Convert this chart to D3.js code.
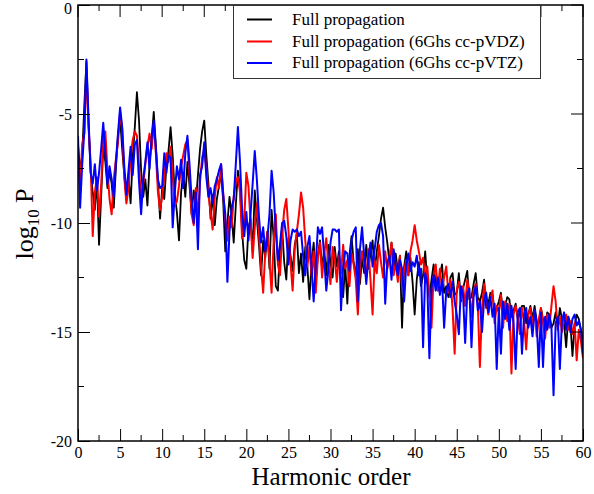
<!DOCTYPE html>
<html>
<head>
<meta charset="utf-8">
<script src="https://cdn.jsdelivr.net/npm/d3@7"></script>
<style>
  html, body { margin: 0; padding: 0; background: #fff; }
  svg { display: block; }
  svg text { font-family: "Liberation Serif", "Times New Roman", serif; }
</style>
</head>
<body>
<svg id="chart" width="594" height="494"></svg>
<script>
// Harmonic order sampled every 0.25 from 0 to 60
const xStep = 0.25;

// log10 of the spectral power, one row per harmonic (four samples each)
const fullProp = [
  -6.4, -7.6, -6.9, -4.6,   -2.6, -5.4, -7.6, -8.6,   -9.4, -8.0, -11.0, -8.8,
  -6.5, -7.2, -8.4, -7.6,   -8.2, -9.3, -7.5, -6.0,   -5.2, -6.6, -7.8, -8.9,
  -7.9, -9.1, -7.0, -5.6,   -4.0, -5.3, -7.6, -8.8,   -8.0, -9.2, -7.3, -6.1,
  -4.9, -6.4, -8.1, -9.8,   -8.4, -8.9, -7.4, -6.7,   -5.6, -6.9, -8.7, -9.5,
  -10.8, -8.6, -7.7, -8.8,  -7.2, -8.3, -9.6, -8.5,   -9.1, -7.8, -6.6, -5.8,
  -5.3, -6.9, -8.2, -9.8,   -8.7, -10.1, -8.9, -8.3,  -7.7, -9.0, -11.3, -10.0,
  -8.8, -9.6, -10.9, -9.2,  -7.6, -8.4, -10.4, -11.7, -12.1, -10.2, -9.8, -11.3,
  -8.5, -9.8, -11.0, -12.4, -10.8, -11.6, -10.4, -12.1, -9.4, -10.7, -12.9, -13.1,
  -11.2, -10.2, -11.8, -12.6, -10.7, -11.5, -12.2, -11.0, -10.5, -12.3, -11.4, -12.7,
  -11.1, -12.0, -13.5, -11.8, -10.9, -12.6, -11.5, -10.8, -12.1, -11.2, -12.4, -11.0,
  -11.8, -12.5, -11.1, -12.0, -11.3, -12.7, -13.4, -11.9, -13.7, -11.5, -10.6, -11.8,
  -12.4, -11.2, -12.8, -11.6, -12.3, -11.0, -12.1, -11.4, -10.8, -12.2, -11.3, -10.6,
  -9.8, -9.3, -10.2, -10.9,  -11.8, -10.9, -12.3, -11.4, -12.2, -11.5, -14.8, -12.0,
  -11.3, -12.4, -11.6, -12.7, -14.2, -12.6, -11.8, -12.9, -12.4, -11.3, -12.7, -13.4,
  -12.6, -11.9, -12.8, -13.1, -12.4, -11.9, -13.2, -12.9, -13.4, -12.5, -12.3, -13.3,
  -13.2, -12.3, -13.6, -13.0, -12.6, -12.2, -13.5, -13.4, -12.8, -12.3, -13.4, -13.6,
  -13.2, -12.6, -13.9, -13.7, -13.2, -13.3, -14.1, -13.9, -13.6, -13.2, -14.2, -13.8,
  -13.4, -13.5, -14.3, -14.0, -13.7, -14.4, -14.1, -13.8, -13.8, -14.6, -14.2, -13.8,
  -14.4, -13.8, -14.5, -14.6, -13.9, -14.4, -14.7, -14.1, -14.2, -14.8, -14.6, -14.1,
  -14.8, -13.9, -14.4, -14.6, -15.7, -14.3, -14.6, -16.1, -14.7, -14.2, -14.4, -14.9,
  -15.4
];

const fullPropVDZ = [
  -7.2, -8.3, -6.4, -5.9,   -3.0, -5.6, -7.2, -10.6,  -8.6, -7.9, -9.7, -8.3,
  -6.1, -5.8, -7.6, -8.9,   -9.6, -8.0, -7.1, -6.3,   -4.9, -5.7, -7.9, -9.1,
  -8.4, -7.0, -6.2, -5.8,   -6.0, -7.4, -9.0, -8.2,   -7.3, -6.5, -5.9, -6.6,
  -5.4, -6.8, -8.6, -9.4,   -8.8, -7.9, -6.8, -7.2,   -6.5, -7.9, -9.2, -9.0,
  -8.3, -7.4, -6.9, -6.4,   -6.2, -7.8, -9.6, -10.1,  -8.4, -9.8, -8.1, -7.0,
  -6.6, -7.5, -8.7, -9.5,   -10.3, -8.8, -7.9, -8.4,  -7.3, -8.6, -9.9, -10.8,
  -9.7, -10.2, -8.8, -8.1,  -7.9, -8.6, -10.7, -9.9,  -7.7, -8.3, -9.9, -11.6,
  -10.2, -9.1, -10.5, -12.0, -13.2, -11.3, -10.4, -11.7, -13.2, -10.8, -9.6, -11.9,
  -12.4, -10.6, -9.4, -8.9,  -10.3, -11.8, -13.1, -11.2, -10.4, -9.6, -8.6, -9.3,
  -10.8, -12.0, -11.1, -12.4, -11.3, -13.2, -11.6, -10.9, -12.5, -11.4, -10.7, -11.9,
  -12.8, -11.1, -11.6, -12.7, -11.5, -12.3, -11.0, -12.1, -11.7, -12.9, -11.4, -11.9,
  -12.6, -14.2, -12.0, -11.3, -11.9, -12.5, -11.2, -12.6, -14.2, -11.7, -12.3, -11.0,
  -11.8, -12.5, -11.3, -12.1, -11.6, -10.9, -12.4, -11.8, -12.7, -11.5, -12.9, -12.2,
  -11.7, -12.4, -11.3, -10.8, -10.1, -10.8, -11.3, -11.9, -11.6, -12.6, -12.0, -13.3,
  -14.8, -12.4, -11.9, -13.1, -12.1, -13.0, -12.5, -12.0, -13.2, -12.6, -13.9, -16.0,
  -13.1, -12.7, -13.5, -12.9, -13.8, -12.6, -13.2, -14.3, -13.1, -12.8, -13.7, -16.6,
  -13.9, -12.8, -13.4, -14.2, -13.5, -13.1, -14.6, -13.8, -14.1, -13.3, -14.8, -13.6,
  -14.5, -13.7, -16.9, -14.2, -13.8, -14.3, -15.1, -13.9, -14.5, -15.8, -14.2, -13.9,
  -14.7, -14.0, -15.2, -14.4, -13.9, -14.6, -15.3, -14.2, -14.8, -13.8, -12.9, -13.6,
  -14.9, -14.3, -15.0, -14.4, -14.2, -14.9, -14.5, -15.1, -14.6, -16.3, -14.9, -15.4,
  -16.2
];

const fullPropVTZ = [
  -6.0, -9.3, -7.3, -5.8,   -2.5, -5.2, -7.7, -8.2,   -7.3, -8.5, -7.7, -6.6,
  -5.4, -6.8, -8.2, -7.4,   -8.0, -8.8, -7.2, -5.9,   -4.7, -5.6, -7.4, -8.7,
  -7.6, -6.5, -7.8, -6.4,   -6.2, -8.1, -9.6, -8.0,   -7.2, -6.3, -7.5, -6.1,
  -5.3, -6.6, -8.0, -8.4,   -8.3, -6.8, -7.7, -6.9,   -7.0, -10.2, -8.6, -7.4,
  -8.0, -7.1, -8.4, -6.8,   -6.0, -7.3, -8.9, -10.0,  -8.6, -11.2, -7.8, -7.4,
  -6.3, -7.9, -8.8, -8.4,   -9.1, -8.3, -8.0, -7.6,   -7.3, -8.7, -9.6, -12.7,
  -10.4, -9.3, -8.9, -7.3,  -5.6, -7.2, -9.4, -10.6,  -9.5, -10.8, -9.6, -8.2,
  -6.7, -8.0, -9.7, -10.9,  -10.2, -11.3, -10.7, -9.6, -7.6, -8.6, -10.4, -11.7,
  -11.0, -10.0, -9.9, -10.6, -11.9, -10.8, -10.3, -10.4, -10.3, -10.6, -10.4, -11.5,
  -12.4, -11.1, -10.6, -12.0, -13.6, -11.9, -10.2, -10.5, -10.2, -11.6, -13.1, -12.1,
  -10.9, -10.3, -10.3, -10.4, -10.3, -14.0, -12.0, -11.3, -11.4, -12.2, -10.8, -10.4,
  -10.2, -13.6, -11.2, -10.2, -11.5, -12.8, -11.6, -10.9, -12.0, -11.2, -10.4, -10.1,
  -10.0, -10.6, -13.7, -11.8, -11.5, -12.6, -11.2, -11.9, -12.4, -11.7, -12.1, -13.6,
  -11.9, -11.4, -12.2, -11.8, -12.0, -11.5, -12.4, -12.1, -15.7, -12.3, -12.8, -16.2,
  -13.0, -12.4, -13.1, -12.5, -13.3, -12.6, -14.8, -13.1, -12.8, -13.4, -12.7, -13.6,
  -14.2, -15.1, -12.9, -13.3, -15.5, -13.2, -13.0, -15.7, -13.4, -12.9, -14.0, -13.6,
  -15.0, -13.5, -13.2, -14.1, -13.4, -14.3, -13.7, -16.7, -13.9, -16.0, -13.6, -14.4,
  -13.7, -14.9, -13.8, -14.6, -16.7, -14.1, -13.9, -16.0, -14.2, -13.9, -14.8, -14.3,
  -15.2, -14.0, -14.6, -16.6, -14.1, -16.6, -14.3, -14.9, -14.2, -14.8, -17.9, -14.6,
  -14.3, -16.7, -14.5, -14.1, -14.9, -14.3, -15.0, -14.4, -14.2, -14.7, -14.5, -14.9,
  -16.0
];

const seriesNames = [
  "Full propagation",
  "Full propagation (6Ghs cc-pVDZ)",
  "Full propagation (6Ghs cc-pVTZ)"
];
const seriesColors = ["#000000", "#ff0000", "#0000ff"];
const seriesWidths = [1.8, 2, 2];

const xMajorTicks = [0, 5, 10, 15, 20, 25, 30, 35, 40, 45, 50, 55, 60];
const xTickLabels = ["0", "5", "10", "15", "20", "25", "30", "35", "40", "45", "50", "55", "60"];
const xMinorTicks = [2.5, 7.5, 12.5, 17.5, 22.5, 27.5, 32.5, 37.5, 42.5, 47.5, 52.5, 57.5];
const yMajorTicks = [0, -5, -10, -15, -20];
const yTickLabels = ["0", "-5", "-10", "-15", "-20"];
const yMinorTicks = [-2.5, -7.5, -12.5, -17.5];

const serif = "'Liberation Serif', 'Times New Roman', serif";
const plot = { left: 78, right: 583, top: 5, bottom: 441 };

const x = d3.scaleLinear().domain([0, 60]).range([plot.left, plot.right]);
const y = d3.scaleLinear().domain([-20, 0]).range([plot.bottom, plot.top]);

const svg = d3.select("#chart");

svg.append("defs").append("clipPath").attr("id", "plotClip")
  .append("rect")
  .attr("x", plot.left).attr("y", plot.top)
  .attr("width", plot.right - plot.left).attr("height", plot.bottom - plot.top);

// spectra, drawn black first so the basis-set curves sit on top
const line = d3.line()
  .x((d, i) => x(i * xStep))
  .y(d => y(d));

const allSeries = [fullProp, fullPropVDZ, fullPropVTZ];
svg.append("g").attr("clip-path", "url(#plotClip)")
  .selectAll("path")
  .data(allSeries)
  .join("path")
  .attr("d", d => line(d))
  .attr("fill", "none")
  .attr("stroke", (d, i) => seriesColors[i])
  .attr("stroke-width", (d, i) => seriesWidths[i])
  .attr("stroke-linejoin", "round");

// axes with inward ticks on all four sides
const bottomAxis = d3.axisBottom(x).tickValues(xMajorTicks)
  .tickSize(-12).tickPadding(6)
  .tickFormat((d, i) => xTickLabels[i]);
const gB = svg.append("g").attr("transform", `translate(0,${plot.bottom})`).call(bottomAxis);

const leftAxis = d3.axisLeft(y).tickValues(yMajorTicks)
  .tickSize(-12).tickPadding(6)
  .tickFormat((d, i) => yTickLabels[i]);
const gL = svg.append("g").attr("transform", `translate(${plot.left},0)`).call(leftAxis);

[gB, gL].forEach(g => {
  g.attr("font-family", null).style("font-family", serif);
  g.select(".domain").remove();
  g.selectAll("text").style("font-family", serif).style("font-size", "16px").attr("fill", "#000");
  g.selectAll("line").attr("stroke", "#000").attr("stroke-width", 1);
});
// keep the top label fully inside the page
gL.selectAll("text").filter(d => d === 0).attr("dy", "0.5em");

const ticks = svg.append("g").attr("stroke", "#000").attr("stroke-width", 1);
// bottom minor, top major + minor
xMinorTicks.forEach(v => {
  ticks.append("line").attr("x1", x(v)).attr("x2", x(v)).attr("y1", plot.bottom).attr("y2", plot.bottom - 6);
  ticks.append("line").attr("x1", x(v)).attr("x2", x(v)).attr("y1", plot.top).attr("y2", plot.top + 6);
});
xMajorTicks.forEach(v => {
  ticks.append("line").attr("x1", x(v)).attr("x2", x(v)).attr("y1", plot.top).attr("y2", plot.top + 12);
});
// left minor, right major + minor
yMinorTicks.forEach(v => {
  ticks.append("line").attr("x1", plot.left).attr("x2", plot.left + 6).attr("y1", y(v)).attr("y2", y(v));
  ticks.append("line").attr("x1", plot.right).attr("x2", plot.right - 6).attr("y1", y(v)).attr("y2", y(v));
});
yMajorTicks.forEach(v => {
  ticks.append("line").attr("x1", plot.right).attr("x2", plot.right - 12).attr("y1", y(v)).attr("y2", y(v));
});

// frame
svg.append("rect")
  .attr("x", plot.left).attr("y", plot.top)
  .attr("width", plot.right - plot.left).attr("height", plot.bottom - plot.top)
  .attr("fill", "none").attr("stroke", "#000").attr("stroke-width", 1.5);

// axis titles
svg.append("text")
  .attr("x", 331).attr("y", 485)
  .attr("text-anchor", "middle")
  .style("font-size", "25px")
  .text("Harmonic order");

const yTitle = svg.append("text")
  .attr("transform", "translate(33,224) rotate(-90)")
  .attr("text-anchor", "middle")
  .style("font-size", "26px");
yTitle.append("tspan").text("log");
yTitle.append("tspan").style("font-size", "17px").attr("dy", 6).text("10");
yTitle.append("tspan").attr("dy", -6).text(" P");

// legend
const legend = svg.append("g");
legend.append("rect")
  .attr("x", 233.5).attr("y", 5.5).attr("width", 307).attr("height", 73)
  .attr("fill", "#fff").attr("stroke", "#333").attr("stroke-width", 1);
const legendRows = [19.5, 41.5, 63];
seriesNames.forEach((name, i) => {
  legend.append("line")
    .attr("x1", 247).attr("x2", 272)
    .attr("y1", legendRows[i]).attr("y2", legendRows[i])
    .attr("stroke", seriesColors[i]).attr("stroke-width", 2);
  legend.append("text")
    .attr("x", 292).attr("y", legendRows[i] + 5)
    .style("font-size", "17px")
    .text(name);
});
</script>
</body>
</html>
